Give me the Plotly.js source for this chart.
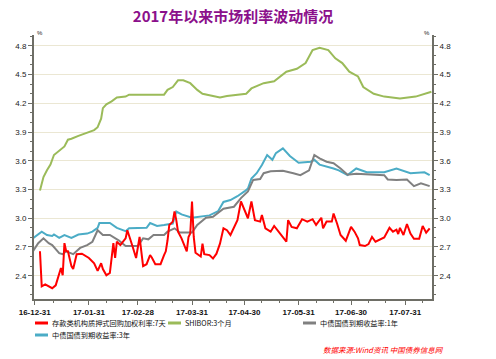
<!DOCTYPE html>
<html>
<head>
<meta charset="utf-8">
<script src="https://cdn.plot.ly/plotly-3.0.1.min.js"></script>
<style>
html,body{margin:0;padding:0;background:#fff;}
#chart{width:496px;height:359px;}
</style>
</head>
<body>
<div id="chart"></div>
<script>
// ---- data ----
const seriesNames = ["存款类机构质押式回购加权利率:7天", "SHIBOR:3个月", "中债国债到期收益率:1年", "中债国债到期收益率:3年"];
const seriesColors = ["#ff0000", "#9bbb59", "#808080", "#4bacc6"];

const repoDates = ["2017-01-03","2017-01-04","2017-01-06","2017-01-08","2017-01-10","2017-01-12","2017-01-13","2017-01-14","2017-01-15","2017-01-16","2017-01-17","2017-01-18","2017-01-19","2017-01-21","2017-01-22","2017-01-24","2017-01-27","2017-01-31","2017-02-03","2017-02-05","2017-02-07","2017-02-08","2017-02-10","2017-02-12","2017-02-14","2017-02-15","2017-02-16","2017-02-18","2017-02-21","2017-02-22","2017-02-23","2017-02-25","2017-02-27","2017-03-01","2017-03-03","2017-03-05","2017-03-07","2017-03-08","2017-03-10","2017-03-13","2017-03-15","2017-03-16","2017-03-17","2017-03-18","2017-03-20","2017-03-21","2017-03-22","2017-03-23","2017-03-25","2017-03-27","2017-03-28","2017-03-29","2017-03-30","2017-03-31","2017-04-01","2017-04-02","2017-04-05","2017-04-06","2017-04-07","2017-04-10","2017-04-12","2017-04-14","2017-04-16","2017-04-18","2017-04-20","2017-04-22","2017-04-24","2017-04-26","2017-04-28","2017-04-30","2017-05-02","2017-05-04","2017-05-06","2017-05-09","2017-05-10","2017-05-12","2017-05-15","2017-05-17","2017-05-18","2017-05-21","2017-05-24","2017-05-25","2017-05-27","2017-05-30","2017-06-02","2017-06-05","2017-06-08","2017-06-10","2017-06-12","2017-06-13","2017-06-14","2017-06-16","2017-06-19","2017-06-20","2017-06-22","2017-06-24","2017-06-27","2017-06-30","2017-07-02","2017-07-04","2017-07-05","2017-07-08","2017-07-10","2017-07-12","2017-07-14","2017-07-16","2017-07-19","2017-07-22","2017-07-24","2017-07-26","2017-07-27","2017-07-28","2017-07-30","2017-08-01","2017-08-03","2017-08-05","2017-08-08","2017-08-10","2017-08-12","2017-08-14"];
const repoValues = [2.655,2.29,2.31,2.29,2.27,2.30,2.355,2.43,2.48,2.405,2.74,2.655,2.655,2.50,2.47,2.625,2.63,2.585,2.53,2.45,2.53,2.47,2.405,2.43,2.74,2.585,2.755,2.72,2.79,2.875,2.825,2.705,2.585,2.805,2.50,2.52,2.615,2.59,2.52,2.52,2.615,2.655,2.77,2.93,2.965,3.07,2.98,2.86,2.79,2.70,2.655,2.805,2.84,3.175,2.805,2.64,2.60,2.735,2.625,2.615,2.58,2.63,2.735,2.895,2.875,2.825,2.895,2.98,3.175,3.09,3.00,3.175,2.98,2.965,3.035,2.895,2.86,2.92,2.895,2.825,2.755,2.98,2.91,2.895,2.99,2.965,2.99,2.93,2.98,3.005,2.895,2.965,2.965,3.05,2.945,2.825,2.765,2.91,2.86,2.79,2.72,2.71,2.73,2.805,2.755,2.77,2.80,2.90,2.86,2.88,2.835,2.90,2.825,2.94,2.84,2.785,2.785,2.92,2.85,2.895];

const shiborDates = ["2017-01-03","2017-01-05","2017-01-07","2017-01-09","2017-01-11","2017-01-13","2017-01-15","2017-01-17","2017-01-19","2017-01-21","2017-01-25","2017-01-28","2017-01-31","2017-02-03","2017-02-05","2017-02-07","2017-02-08","2017-02-10","2017-02-13","2017-02-16","2017-02-21","2017-02-23","2017-02-28","2017-03-15","2017-03-17","2017-03-20","2017-03-23","2017-03-26","2017-03-30","2017-04-03","2017-04-06","2017-04-13","2017-04-16","2017-04-20","2017-04-28","2017-05-01","2017-05-04","2017-05-11","2017-05-17","2017-05-24","2017-05-30","2017-06-04","2017-06-08","2017-06-12","2017-06-17","2017-06-21","2017-06-25","2017-06-29","2017-07-04","2017-07-07","2017-07-13","2017-07-19","2017-07-28","2017-08-06","2017-08-15"];
const shiborValues = [3.29,3.43,3.50,3.56,3.66,3.69,3.71,3.75,3.82,3.83,3.86,3.88,3.90,3.92,3.95,4.04,4.15,4.19,4.22,4.26,4.27,4.29,4.29,4.29,4.34,4.37,4.44,4.44,4.41,4.34,4.30,4.27,4.26,4.275,4.29,4.30,4.355,4.41,4.43,4.53,4.56,4.62,4.755,4.78,4.755,4.67,4.62,4.53,4.48,4.37,4.30,4.27,4.25,4.27,4.32];

const cgb1yDates = ["2016-12-30","2017-01-02","2017-01-05","2017-01-08","2017-01-10","2017-01-14","2017-01-16","2017-01-18","2017-01-22","2017-01-26","2017-01-30","2017-02-02","2017-02-05","2017-02-08","2017-02-12","2017-02-17","2017-02-21","2017-02-28","2017-03-03","2017-03-06","2017-03-09","2017-03-15","2017-03-17","2017-03-21","2017-03-24","2017-03-31","2017-04-03","2017-04-08","2017-04-12","2017-04-18","2017-04-24","2017-04-28","2017-05-02","2017-05-05","2017-05-09","2017-05-11","2017-05-15","2017-05-22","2017-05-28","2017-06-01","2017-06-06","2017-06-08","2017-06-09","2017-06-12","2017-06-16","2017-06-20","2017-06-24","2017-06-28","2017-07-03","2017-07-19","2017-07-21","2017-07-26","2017-08-01","2017-08-05","2017-08-09","2017-08-14"];
const cgb1yValues = [2.655,2.74,2.79,2.74,2.72,2.635,2.625,2.655,2.625,2.69,2.72,2.755,2.875,2.825,2.825,2.77,2.71,2.71,2.79,2.78,2.825,2.825,2.86,2.895,2.85,2.85,2.93,3.005,3.015,3.10,3.12,3.21,3.28,3.40,3.41,3.47,3.49,3.495,3.47,3.45,3.50,3.61,3.66,3.625,3.59,3.575,3.52,3.455,3.465,3.45,3.405,3.40,3.405,3.335,3.365,3.335];

const cgb3yDates = ["2016-12-30","2017-01-04","2017-01-07","2017-01-10","2017-01-11","2017-01-14","2017-01-17","2017-01-21","2017-01-25","2017-01-30","2017-02-02","2017-02-05","2017-02-06","2017-02-12","2017-02-16","2017-02-21","2017-02-23","2017-03-01","2017-03-05","2017-03-07","2017-03-11","2017-03-15","2017-03-18","2017-03-20","2017-03-22","2017-03-25","2017-03-31","2017-04-10","2017-04-15","2017-04-18","2017-04-22","2017-04-26","2017-04-30","2017-05-02","2017-05-04","2017-05-07","2017-05-10","2017-05-13","2017-05-16","2017-05-18","2017-05-22","2017-05-26","2017-05-31","2017-06-07","2017-06-09","2017-06-12","2017-06-20","2017-06-23","2017-06-28","2017-07-03","2017-07-09","2017-07-19","2017-07-26","2017-08-03","2017-08-11","2017-08-14"];
const cgb3yValues = [2.79,2.86,2.825,2.815,2.83,2.795,2.825,2.795,2.83,2.84,2.86,2.90,2.95,2.95,2.90,2.865,2.895,2.895,2.90,2.95,2.92,2.93,2.935,2.945,3.07,3.04,3.005,3.03,3.075,3.17,3.19,3.23,3.28,3.31,3.415,3.47,3.555,3.66,3.61,3.68,3.73,3.65,3.58,3.59,3.61,3.56,3.52,3.50,3.45,3.52,3.48,3.48,3.52,3.47,3.48,3.45];

const xTickVals = ["2016-12-31","2017-01-31","2017-02-28","2017-03-31","2017-04-30","2017-05-31","2017-06-30","2017-07-31"];
const xTickText = ["16-12-31","17-01-31","17-02-28","17-03-31","17-04-30","17-05-31","17-06-30","17-07-31"];
const yTickVals = [2.4, 2.7, 3.0, 3.3, 3.6, 3.9, 4.2, 4.5, 4.8];
const yTickText = ["2.4","2.7","3.0","3.3","3.6","3.9","4.2","4.5","4.8"];
const titleText = "2017年以来市场利率波动情况";
const sourceText = "数据来源:Wind资讯 中国债券信息网";
const unitText = "%";

// ---- chart ----
const xs = [repoDates, shiborDates, cgb1yDates, cgb3yDates];
const ys = [repoValues, shiborValues, cgb1yValues, cgb3yValues];
const drawOrder = [1, 3, 2, 0];
const traces = drawOrder.map(i => ({
  type: 'scatter', mode: 'lines', name: seriesNames[i],
  x: xs[i], y: ys[i],
  line: {color: seriesColors[i], width: 2},
  showlegend: false, hoverinfo: 'skip'
}));

const yRange = [2.157, 4.933];
const xRange = ["2016-12-30 14:00", "2017-08-15 08:00"];
const axisColor = "#6e6e66";
const gridColor = "#ebe7d3";
const tickFont = {family: "Liberation Sans, DejaVu Sans, sans-serif", size: 8, color: "#222"};

const commonY = {
  range: yRange, tickmode: 'array', tickvals: yTickVals, ticktext: yTickText,
  showline: true, linecolor: axisColor, linewidth: 2,
  ticks: 'outside', ticklen: 4, tickcolor: axisColor, tickwidth: 1,
  tickfont: tickFont, zeroline: false, fixedrange: true,
  minor: {dtick: 0.1, tick0: 0, ticks: 'outside', ticklen: 2, tickcolor: axisColor, showgrid: false}
};

// Manual legend
const cjkFont = "Noto Sans CJK SC, sans-serif";
const legendPos = [
  {x: 35, y: 323}, {x: 168, y: 323}, {x: 303, y: 323}, {x: 35, y: 335}
];
const W = 496, H = 359, L = 34, R = 64, T = 35, B = 60;
const pw = W - L - R, ph = H - T - B;
const px = v => (v - L) / pw;
const py = v => (H - B - v) / ph;

const shapes = [];
const annotations = [];
seriesNames.forEach((name, i) => {
  const p = legendPos[i];
  shapes.push({type: 'line', xref: 'paper', yref: 'paper',
    x0: px(p.x), x1: px(p.x + 13), y0: py(p.y), y1: py(p.y),
    line: {color: seriesColors[i], width: 3}});
  annotations.push({xref: 'paper', yref: 'paper', x: px(p.x + 15), y: py(p.y),
    xanchor: 'left', yanchor: 'middle', showarrow: false, text: name,
    font: {family: cjkFont, size: 7.2, color: "#111"}});
});
annotations.push({xref: 'paper', yref: 'paper', x: px(446), y: py(349),
  xanchor: 'right', yanchor: 'middle', showarrow: false,
  text: '<i>' + sourceText + '</i>',
  font: {family: cjkFont, size: 7.5, color: "#ff0000"}});
annotations.push({xref: 'paper', yref: 'paper', x: px(35), y: py(33), xanchor: 'left', yanchor: 'middle',
  showarrow: false, text: unitText, font: {family: "Liberation Sans, sans-serif", size: 6, color: "#222"}});
annotations.push({xref: 'paper', yref: 'paper', x: px(432), y: py(33), xanchor: 'right', yanchor: 'middle',
  showarrow: false, text: unitText, font: {family: "Liberation Sans, sans-serif", size: 6, color: "#222"}});

const layout = {
  width: W, height: H,
  margin: {l: L, r: R, t: T, b: B, pad: 0},
  paper_bgcolor: '#fff', plot_bgcolor: '#fff',
  showlegend: false,
  title: {text: '<b>' + titleText + '</b>', x: 0.5, xref: 'paper', xanchor: 'center',
    y: 1 - 17 / H, yref: 'container', yanchor: 'middle',
    font: {family: cjkFont, size: 15, color: "#8b108b"}},
  xaxis: {
    type: 'date', range: xRange, tickmode: 'array', tickvals: xTickVals, ticktext: xTickText,
    showline: true, linecolor: axisColor, linewidth: 2, showgrid: false, zeroline: false,
    ticks: 'outside', ticklen: 4, tickcolor: axisColor, tickwidth: 1,
    tickfont: {family: "Liberation Sans, DejaVu Sans, sans-serif", size: 8, color: "#111", weight: 'bold'},
    fixedrange: true,
    minor: {tickvals: ["2017-01-11","2017-01-21","2017-02-10","2017-02-19","2017-03-10","2017-03-20","2017-04-10","2017-04-20","2017-05-10","2017-05-20","2017-06-10","2017-06-20","2017-07-10","2017-07-20","2017-08-10"],
      ticks: 'outside', ticklen: 2, tickcolor: axisColor, showgrid: false}
  },
  yaxis: Object.assign({}, commonY, {side: 'left', showgrid: true, gridcolor: gridColor, gridwidth: 1,
    range: [yRange[0], yRange[1] - 0.02]}),
  yaxis2: Object.assign({}, commonY, {side: 'right', overlaying: 'y', showgrid: false, anchor: 'x',
    range: [yRange[0], yRange[1] - 0.02]}),
  shapes: shapes,
  annotations: annotations
};

// add an invisible trace to activate yaxis2
traces.push({type: 'scatter', mode: 'lines', x: [], y: [], yaxis: 'y2', showlegend: false, hoverinfo: 'skip'});

Plotly.newPlot('chart', traces, layout, {staticPlot: true, displayModeBar: false});
</script>
</body>
</html>
